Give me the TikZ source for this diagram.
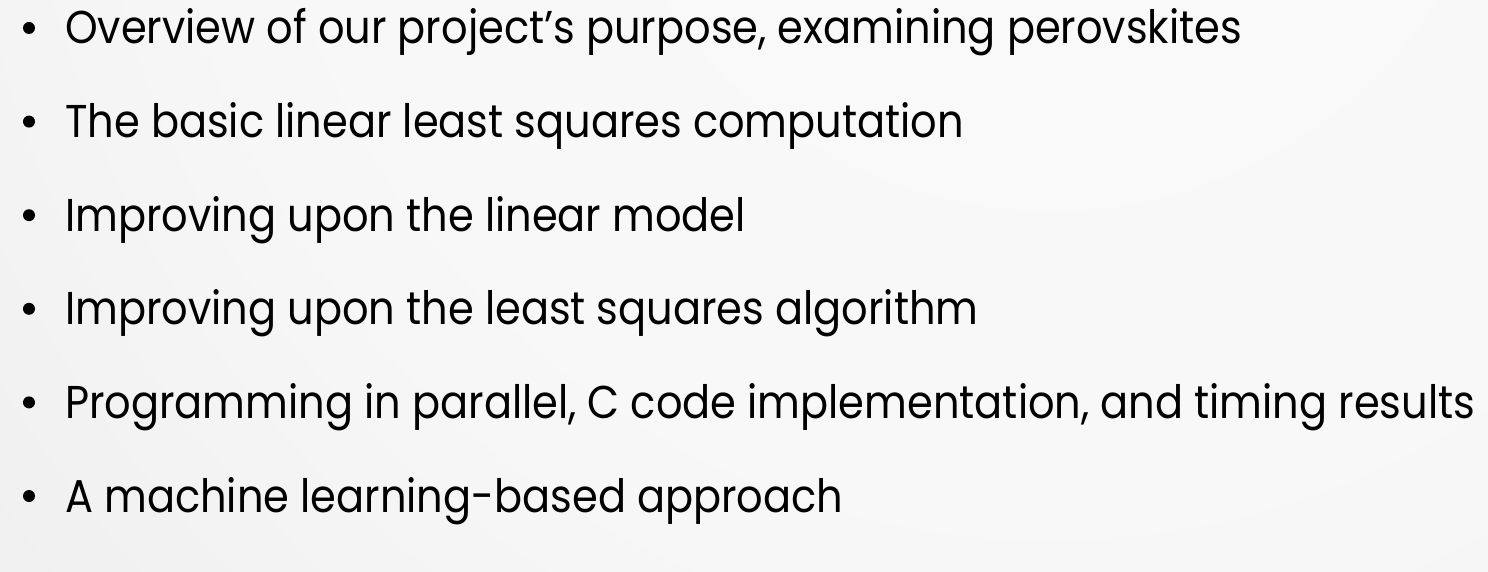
\documentclass[tikz,border=0pt]{standalone}
\usepackage{fontspec}
\setmainfont{Poppins}
\usepackage{graphicx}

% soft grey slide background, lightest towards the upper right
\pgfdeclareradialshading{slidebg}{\pgfpoint{0bp}{0bp}}{%
  color(0bp)=(white!98!black);
  color(14bp)=(white!97!black);
  color(28bp)=(white!92!black);
  color(38bp)=(white!87!black);
  color(46bp)=(white!80!black);
  color(50bp)=(white!78!black)}

\newlength\itemwd
\newcommand\itemfont{\fontsize{46}{56}\selectfont}
\newcommand\itm[1]{\scalebox{\xsc}[1]{\itemfont #1}}

\tikzset{
  bulletdot/.style={circle, fill=black, inner sep=0pt, minimum size=12pt},
  itemtext/.style={anchor=base west, inner sep=0pt, text=black},
}

\begin{document}
% common horizontal squeeze so the longest item spans the slide
\settowidth\itemwd{\itemfont Programming in parallel, C code implementation, and timing results}
\pgfmathsetmacro\xsc{1410/\itemwd}
\begin{tikzpicture}[x=1pt, y=-1pt]
  \useasboundingbox (0,0) rectangle (1488,572);
  \begin{scope}
    \clip (0,0) rectangle (1488,572);
    \fill[white!78!black] (0,0) rectangle (1488,572);
    \shade[shading=slidebg] (1050,-250) circle (1500);
  \end{scope}

  \foreach \k/\txt in {
      0/{Overview of our project’s purpose, examining perovskites},
      1/{The basic linear least squares computation},
      2/{Improving upon the linear model},
      3/{Improving upon the least squares algorithm},
      4/{Programming in parallel, C code implementation, and timing results},
      5/{A machine learning-based approach}} {
    \pgfmathsetmacro\yb{44+93.6*\k}
    \node[bulletdot] (b\k) at (29,\yb-16) {};
    \node[itemtext] (t\k) at (65,\yb) {\itm{\txt}};
  }
\end{tikzpicture}
\end{document}
